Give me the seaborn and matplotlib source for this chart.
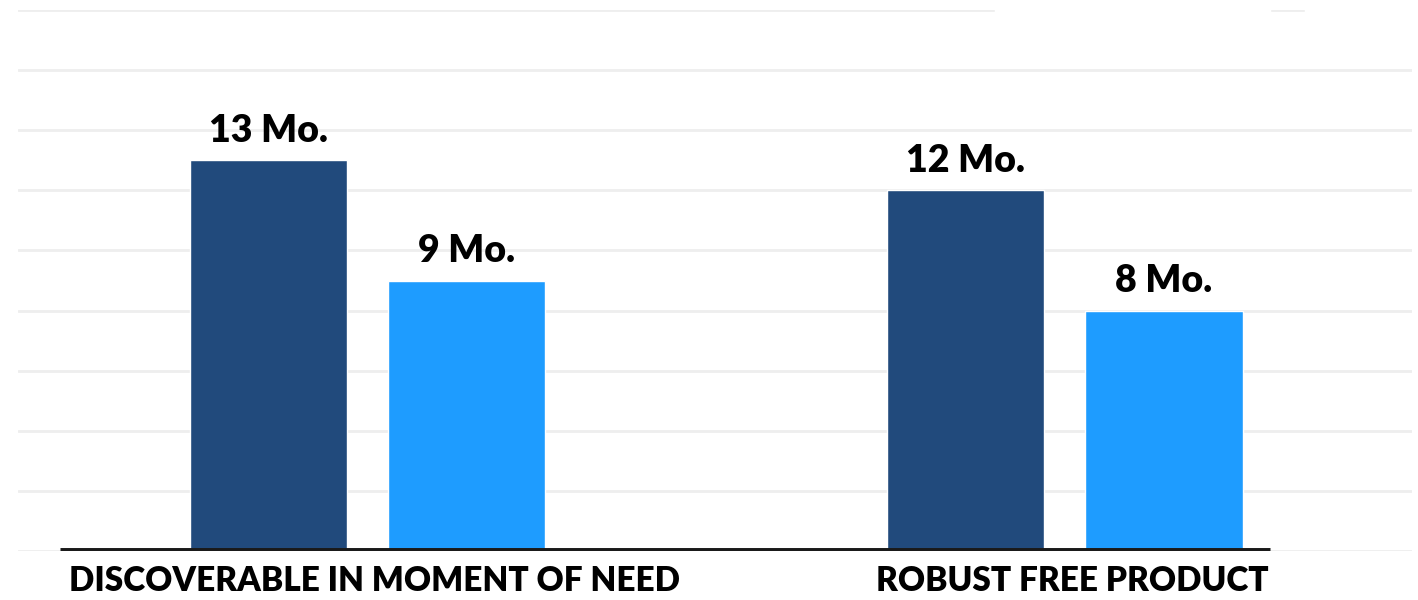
import numpy as np
import pandas as pd
import matplotlib.pyplot as plt
import seaborn as sns
from matplotlib.patches import Rectangle

categories = ["DISCOVERABLE IN MOMENT OF NEED", "ROBUST FREE PRODUCT"]
series = ["Series 1", "Series 2"]
values_s1 = [13, 12]
values_s2 = [9, 8]
value_labels_s1 = ["13 Mo.", "12 Mo."]
value_labels_s2 = ["9 Mo.", "8 Mo."]

df = pd.DataFrame({
    "category": categories * 2,
    "series": [series[0]] * 2 + [series[1]] * 2,
    "months": values_s1 + values_s2,
})

sns.set_theme(style="white")
plt.rcParams['font.family'] = ['Lato', 'DejaVu Sans']

fig = plt.figure(figsize=(14.18, 6), dpi=100)
fig.patch.set_facecolor("white")
ax = fig.add_axes([18 / 1418, 49 / 600, 1394 / 1418, 541 / 600])

sns.barplot(data=df, x="category", y="months", hue="series",
            palette=["#214a7c", "#1e9cff"], width=0.568, gap=0.207,
            saturation=1, legend=False, ax=ax, zorder=3)

ax.set_xlim(-0.501, 1.4975)
ax.set_ylim(0, 18)
ax.set_yticks(np.arange(0, 19, 2))
ax.yaxis.grid(True, color="#eeeeee", linewidth=2, zorder=0)
ax.set_axisbelow(True)
for s in ax.spines.values():
    s.set_visible(False)
ax.set_xlabel("")
ax.set_ylabel("")
ax.tick_params(left=False, labelleft=False, bottom=False)
ax.set_xticks([0, 1])
ax.set_xticklabels(["", ""])

# black baseline under the bars
ax.axhline(0, xmin=42 / 1394, xmax=1252 / 1394, color="#1a1a1a", linewidth=5,
           solid_capstyle="butt", zorder=5)

# value labels
labels = value_labels_s1 + value_labels_s2
for bar, lab in zip(ax.patches, labels):
    ax.annotate(lab, (bar.get_x() + bar.get_width() / 2, bar.get_height()),
                xytext=(0, 13), textcoords="offset points",
                ha="center", va="baseline", fontsize=27, fontweight="heavy",
                color="black")

# category labels
for i, cat in enumerate(categories):
    ax.text(i + 0.01, -0.074, cat, transform=ax.get_xaxis_transform(),
            ha="center", va="baseline", fontsize=24, fontweight="heavy",
            color="black", clip_on=False)

# white boxes hiding part of the top gridline
fig.add_artist(Rectangle((995 / 1418, 0.97), 275 / 1418, 0.03,
                         transform=fig.transFigure, color="white", zorder=10))
fig.add_artist(Rectangle((1305 / 1418, 0.97), 113 / 1418, 0.03,
                         transform=fig.transFigure, color="white", zorder=10))

fig.savefig("out.png", dpi=100, facecolor="white")
